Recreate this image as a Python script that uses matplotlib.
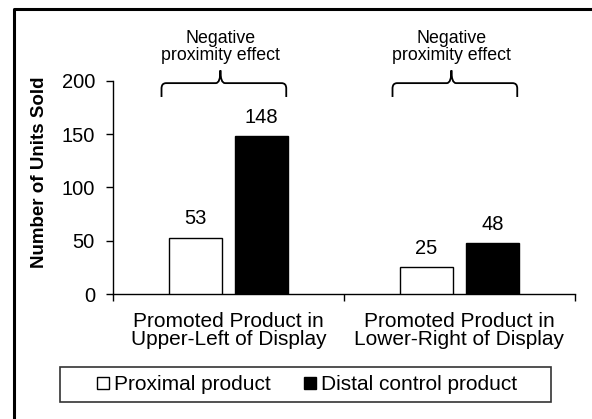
import matplotlib
matplotlib.use("Agg")
import matplotlib.pyplot as plt
from matplotlib.lines import Line2D
from matplotlib.patches import Rectangle, PathPatch
from matplotlib.path import Path

# ---- data ----
categories = ["Promoted Product in\nUpper-Left of Display",
              "Promoted Product in\nLower-Right of Display"]
proximal = [53, 25]
distal = [148, 48]
series_names = ["Proximal product", "Distal control product"]
yticks = [0, 50, 100, 150, 200]
brace_text = "Negative\nproximity effect"

plt.rcParams['font.family'] = ['Liberation Sans', 'DejaVu Sans']
FS = 15
FS_T = 14.5

fig = plt.figure(figsize=(5.92, 4.19), dpi=100)
W, H = 592, 419
ax = fig.add_axes([113 / W, 1 - 294 / H, 462 / W, 213 / H])

x = list(range(len(categories)))
off = 0.143
bw = 0.229
ax.bar([i - off for i in x], proximal, width=bw, color='white',
       edgecolor='black', linewidth=1.0, zorder=3)
ax.bar([i + off for i in x], distal, width=bw, color='black',
       edgecolor='black', linewidth=1.0, zorder=3)

for i in x:
    ax.annotate(str(proximal[i]), (i - off, proximal[i]), xytext=(0, 9.5),
                textcoords='offset points', ha='center', va='baseline', fontsize=FS_T)
    ax.annotate(str(distal[i]), (i + off, distal[i]), xytext=(0, 9.5),
                textcoords='offset points', ha='center', va='baseline', fontsize=FS_T)

ax.set_xlim(-0.5, 1.5)
ax.set_ylim(0, 200)
ax.set_yticks(yticks)
ax.set_xticks(x)
ax.set_xticklabels(categories, fontsize=FS, linespacing=0.95)
ax.set_xticks([-0.5, 0.5, 1.5], minor=True)
ax.tick_params(axis='x', which='major', length=0, pad=13)
ax.tick_params(axis='x', which='minor', length=5, width=1.0, direction='out')
ax.tick_params(axis='y', length=5, width=1.0, direction='out', pad=8, labelsize=FS_T)
for s in ['top', 'right']:
    ax.spines[s].set_visible(False)
for s in ['left', 'bottom']:
    ax.spines[s].set_linewidth(1.0)

fig.text(40 / W, 1 - 172 / H, "Number of Units Sold", rotation=90,
         ha='center', va='center', fontsize=13.5, fontweight='bold')

# braces
def brace(xc, half, tipx):
    x0, x1 = xc - half, xc + half
    yb, yl, yt = 185, 198, 210
    rx, ry = 0.02, 5
    verts = [(x0, yb), (x0, yl - ry), (x0, yl), (x0 + rx, yl),
             (tipx - rx, yl), (tipx, yl), (tipx, yt),
             (tipx, yl), (tipx + rx, yl),
             (x1 - rx, yl), (x1, yl), (x1, yl - ry), (x1, yb)]
    codes = [Path.MOVETO, Path.LINETO, Path.CURVE3, Path.CURVE3,
             Path.LINETO, Path.CURVE3, Path.CURVE3,
             Path.CURVE3, Path.CURVE3,
             Path.LINETO, Path.CURVE3, Path.CURVE3, Path.LINETO]
    p = PathPatch(Path(verts, codes), fill=False, edgecolor='black',
                  linewidth=1.3, clip_on=False, zorder=4)
    ax.add_patch(p)

for i in x:
    brace(i - 0.02, 0.27, i - 0.035)
    ax.text(i - 0.035, 216, brace_text, ha='center', va='bottom',
            fontsize=12.8, linespacing=1.0, clip_on=False)

# legend box
fig.add_artist(Rectangle((60 / W, 1 - 402 / H), 491 / W, 35 / H,
                         transform=fig.transFigure, fill=False,
                         edgecolor='#333333', linewidth=1.2))
handles = [Line2D([], [], marker='s', linestyle='none', markersize=8.5,
                  markerfacecolor='white', markeredgecolor='black', markeredgewidth=1.0),
           Line2D([], [], marker='s', linestyle='none', markersize=8.5,
                  markerfacecolor='black', markeredgecolor='black')]
fig.legend(handles, series_names, loc='center',
           bbox_to_anchor=(307 / W, 1 - 384.5 / H), ncol=2, frameon=False,
           fontsize=FS, handlelength=0.55, handletextpad=0.25, columnspacing=1.6)

# outer border
fig.add_artist(Line2D([14 / W, 14 / W, 1.0], [0, 1 - 9 / H, 1 - 9 / H],
                      transform=fig.transFigure, color='black', linewidth=2.2))

fig.savefig("out.png", dpi=100)
